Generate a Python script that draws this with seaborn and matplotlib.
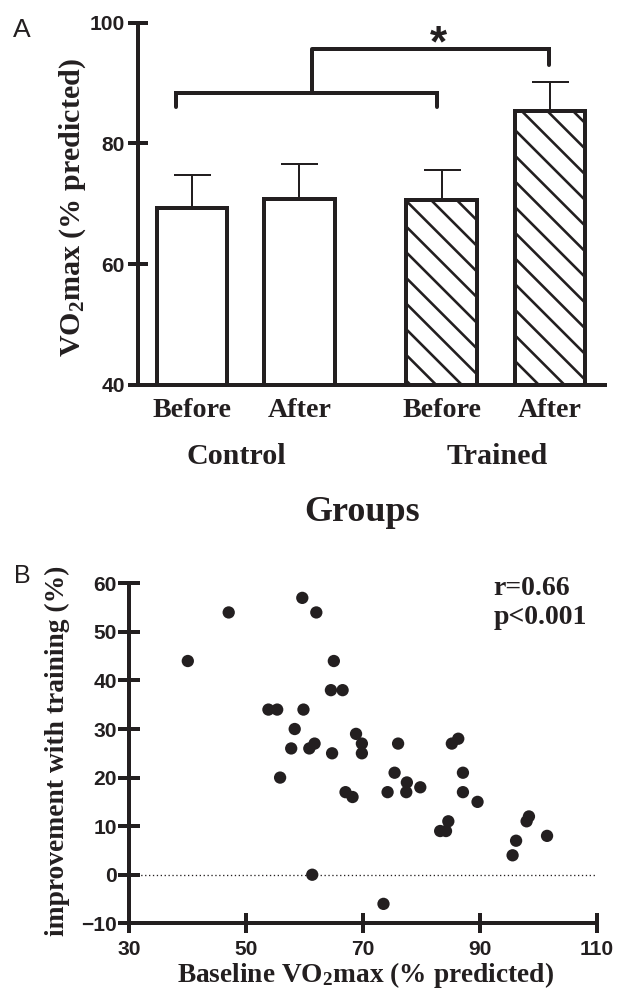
import numpy as np
import pandas as pd
import matplotlib
matplotlib.use("Agg")
import matplotlib.pyplot as plt
import seaborn as sns

# ---------------- data ----------------
conditions = ["Before", "After", "Before", "After"]
groups = ["Control", "Control", "Trained", "Trained"]
bar_pos = [0.0, 1.0, 2.33, 3.34]
bar_means = [69.3, 70.8, 70.6, 85.3]
bar_sem = [5.5, 5.8, 5.0, 4.9]

baseline = [40.0, 47.0, 59.6, 62.0, 65.0, 64.5, 66.5, 53.8, 55.3, 59.8,
            58.3, 57.7, 60.8, 61.7, 64.7, 68.8, 69.8, 69.8, 55.8, 67.0,
            68.2, 61.3, 73.5, 76.0, 75.4, 77.5, 74.2, 77.4, 79.8, 85.2,
            86.3, 87.1, 87.1, 89.6, 84.6, 83.2, 84.2, 98.4, 98.0, 96.2,
            95.6, 101.5]
improvement = [44, 54, 57, 54, 44, 38, 38, 34, 34, 34,
               30, 26, 26, 27, 25, 29, 27, 25, 20, 17,
               16, 0, -6, 27, 21, 19, 17, 17, 18, 27,
               28, 21, 17, 15, 11, 9, 9, 12, 11, 7,
               4, 8]

top_yticks = [40, 60, 80, 100]
bot_xticks = [30, 50, 70, 90, 110]
bot_yticks = [-10, 0, 10, 20, 30, 40, 50, 60]

# ---------------- style ----------------
DPI = 77
W, H = 617, 996
INK = "#231f20"


def pt(px):
    return px * 72.0 / DPI


sns.set_theme(style="white")
plt.rcParams.update({
    "font.family": ["Liberation Sans", "DejaVu Sans"],
    "font.weight": "bold",
    "mathtext.fontset": "custom",
    "mathtext.rm": "Liberation Serif:bold",
    "mathtext.bf": "Liberation Serif:bold",
    "mathtext.it": "Liberation Serif:bold:italic",
    "hatch.linewidth": pt(2.6),
    "hatch.color": INK,
    "axes.edgecolor": INK,
    "xtick.color": INK,
    "ytick.color": INK,
    "text.color": INK,
})

fig = plt.figure(figsize=(W / DPI, H / DPI), dpi=DPI)
fig.patch.set_facecolor("white")


def fx(x):
    return x / W


def fy(y):
    return 1 - y / H


ax1 = fig.add_axes([fx(137.7), fy(385), (605 - 137.7) / W, (385 - 22.7) / H])
ax2 = fig.add_axes([fx(129.4), fy(923.3), (596.7 - 129.4) / W, (923.3 - 583.3) / H])

SERIF = ["Liberation Serif", "DejaVu Serif"]

# ---------------- panel A ----------------
df = pd.DataFrame({"pos": bar_pos, "mean": bar_means, "group": groups})
sns.barplot(data=df, x="pos", y="mean", native_scale=True, width=0.66,
            color="white", saturation=1, edgecolor=INK, linewidth=pt(4),
            errorbar=None, ax=ax1)
for patch, grp in zip(ax1.patches, groups):
    if grp == "Trained":
        patch.set_hatch("\\")

ax1.errorbar(bar_pos, bar_means, yerr=[np.zeros(len(bar_sem)), bar_sem],
             fmt="none", ecolor=INK, elinewidth=pt(2), capsize=pt(18.5),
             capthick=pt(2), zorder=3)

ax1.set_xlim(-0.507, 3.853)
ax1.set_ylim(40, 100)
ax1.set_yticks(top_yticks)
ax1.set_xticks(bar_pos)
ax1.set_xticklabels(conditions)
ax1.set_xlabel("")
ax1.set_ylabel("")
sns.despine(ax=ax1)
for s in ["left", "bottom"]:
    ax1.spines[s].set_linewidth(pt(4))
    ax1.spines[s].set_color(INK)
ax1.tick_params(axis="y", left=True, direction="inout", length=pt(20),
                width=pt(4), pad=pt(2.7), labelsize=pt(21))
ax1.tick_params(axis="x", bottom=False, length=0, pad=pt(13), labelsize=pt(28))
for lab in ax1.get_xticklabels():
    lab.set_fontfamily(SERIF)
    lab.set_fontweight("bold")
for lab in ax1.get_yticklabels():
    lab.set_fontweight("bold")

# significance brackets
blw = pt(4)
ax1.plot([-0.15, -0.15, 2.29, 2.29], [86.1, 88.4, 88.4, 86.1], color=INK,
         lw=blw, solid_capstyle="round", solid_joinstyle="miter", clip_on=False)
ax1.plot([1.12, 1.12], [88.4, 95.6], color=INK, lw=blw,
         solid_capstyle="butt", clip_on=False)
ax1.plot([1.12, 3.33, 3.33], [95.6, 95.6, 93.0], color=INK, lw=blw,
         solid_capstyle="round", solid_joinstyle="miter", clip_on=False)
fig.text(fx(438.3), fy(56), "*", ha="center", va="baseline",
         fontsize=pt(44), fontweight="bold", family=["Liberation Sans"])

fig.text(fx(236.7), fy(464), "Control", ha="center", va="baseline",
         fontsize=pt(30), fontweight="bold", family=SERIF)
fig.text(fx(497.5), fy(464), "Trained", ha="center", va="baseline",
         fontsize=pt(30), fontweight="bold", family=SERIF)
fig.text(fx(361.7), fy(521), "Groups", ha="center", va="baseline",
         fontsize=pt(36), fontweight="bold", family=SERIF)
fig.text(fx(72.5), fy(208), r"V$\mathbf{O_2}$max (% predicted)", rotation=90,
         ha="center", va="center", fontsize=pt(30), fontweight="bold",
         family=SERIF)
fig.text(fx(22), fy(37), "A", ha="center", va="baseline", fontsize=pt(26.5),
         fontweight="normal", family=["Liberation Sans"])

# ---------------- panel B ----------------
sns.scatterplot(x=baseline, y=improvement, s=pt(12.3) ** 2, color=INK,
                edgecolor="none", linewidth=0, ax=ax2, zorder=3, clip_on=False)
ax2.axhline(0, color=INK, lw=pt(1.3), ls=(0, (1, 2)), zorder=1)
ax2.set_xlim(30, 110)
ax2.set_ylim(-10, 60)
ax2.set_xticks(bot_xticks)
ax2.set_yticks(bot_yticks)
sns.despine(ax=ax2)
for s in ["left", "bottom"]:
    ax2.spines[s].set_linewidth(pt(4))
    ax2.spines[s].set_color(INK)
ax2.tick_params(axis="x", bottom=True, direction="inout", length=pt(20),
                width=pt(4), pad=pt(6.5), labelsize=pt(21))
ax2.tick_params(axis="y", left=True, direction="inout", length=pt(22),
                width=pt(4), pad=pt(1.4), labelsize=pt(21))
for lab in ax2.get_xticklabels() + ax2.get_yticklabels():
    lab.set_fontweight("bold")

ax2.text(92.3, 57.6, "r=0.66", ha="left", va="baseline", fontsize=pt(27.8),
         fontweight="bold", family=SERIF)
ax2.text(92.3, 51.6, "p<0.001", ha="left", va="baseline", fontsize=pt(27.8),
         fontweight="bold", family=SERIF)

fig.text(fx(365.5), fy(981.5), r"Baseline V$\mathbf{O_2}$max (% predicted)",
         ha="center", va="baseline", fontsize=pt(27.4), fontweight="bold",
         family=SERIF)
fig.text(fx(57.5), fy(751), "improvement with training (%)", rotation=90,
         ha="center", va="center", fontsize=pt(27.5), fontweight="bold",
         family=SERIF)
fig.text(fx(22.5), fy(583), "B", ha="center", va="baseline", fontsize=pt(25),
         fontweight="normal", family=["Liberation Sans"])

fig.savefig("out.png", dpi=DPI, facecolor="white")
